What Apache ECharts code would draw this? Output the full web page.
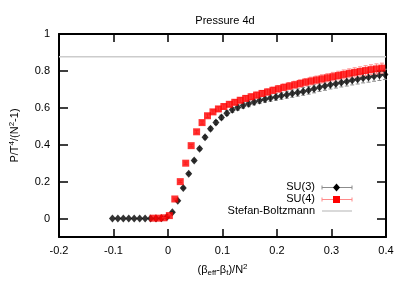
<!DOCTYPE html>
<html>
<head>
<meta charset="utf-8">
<script src="https://cdn.jsdelivr.net/npm/echarts@6/dist/echarts.min.js"></script>
<style>html,body{margin:0;padding:0;background:#fff;}#c{width:407px;height:285px;}</style>
</head>
<body>
<div id="c"></div>
<script>
// ---- data ----
const su3X = [-0.102,-0.092,-0.082,-0.072,-0.062,-0.052,-0.042,-0.032,-0.022,-0.012,-0.002,
  0.008,0.018,0.028,0.038,0.048,0.058,0.068,0.078,0.088,0.098,0.108,0.118,0.128,0.138,0.148,
  0.158,0.168,0.178,0.188,0.198,0.208,0.218,0.228,0.238,0.248,0.258,0.268,0.278,0.288,0.298,
  0.308,0.318,0.328,0.338,0.348,0.358,0.368,0.378,0.388,0.398];
const su3Y = [0,0,0,0,0,0,0,0,0,0.002,0.008,
  0.034,0.097,0.166,0.243,0.315,0.378,0.44,0.486,0.52,0.548,0.571,0.589,0.602,0.613,0.622,
  0.632,0.640,0.647,0.653,0.659,0.665,0.671,0.677,0.683,0.689,0.695,0.703,0.711,0.718,0.725,
  0.731,0.737,0.743,0.749,0.755,0.761,0.766,0.771,0.776,0.781];
const su3Err = [0,0,0,0,0,0,0,0,0,0,0.001,
  0.003,0.004,0.005,0.006,0.007,0.008,0.009,0.010,0.011,0.012,0.013,0.014,0.015,0.015,0.016,
  0.016,0.017,0.017,0.018,0.018,0.019,0.019,0.020,0.020,0.021,0.021,0.022,0.022,0.023,0.023,
  0.024,0.024,0.025,0.025,0.026,0.026,0.027,0.027,0.028,0.028];
const su4X = [-0.0275,-0.0175,-0.0075,0.0025,0.0125,0.0225,0.0325,0.0425,0.0525,0.0625,
  0.0725,0.0825,0.0925,0.1025,0.1125,0.1225,0.1325,0.1425,0.1525,0.1625,0.1725,0.1825,0.1925,
  0.2025,0.2125,0.2225,0.2325,0.2425,0.2525,0.2625,0.2725,0.2825,0.2925,0.3025,0.3125,0.3225,
  0.3325,0.3425,0.3525,0.3625,0.3725,0.3825,0.3925];
const su4Y = [0.002,0.002,0.004,0.016,0.106,0.200,0.300,0.395,0.470,0.520,
  0.557,0.578,0.594,0.607,0.619,0.630,0.641,0.651,0.660,0.669,0.678,0.686,0.695,
  0.703,0.711,0.718,0.725,0.732,0.739,0.745,0.751,0.757,0.763,0.769,0.775,0.781,
  0.787,0.792,0.797,0.802,0.807,0.811,0.815];
const su4Err = [0,0,0.001,0.002,0.004,0.005,0.006,0.007,0.008,0.009,
  0.010,0.011,0.012,0.013,0.013,0.014,0.014,0.015,0.015,0.016,0.016,0.017,0.017,
  0.018,0.018,0.019,0.019,0.020,0.020,0.021,0.021,0.022,0.022,0.023,0.023,0.024,
  0.024,0.025,0.025,0.026,0.026,0.027,0.027];
const sbX = [-0.2, 0.4];
const sbY = [0.877, 0.877];
const xTicks = [-0.2,-0.1,0,0.1,0.2,0.3,0.4];
const yTicks = [0,0.2,0.4,0.6,0.8,1];
const legendNames = ['SU(3)','SU(4)','Stefan-Boltzmann'];

// ---- chart ----
const chart = echarts.init(document.getElementById('c'), null, {renderer:'canvas'});
const FONT = 'Liberation Sans, Arial, sans-serif';
function zip3(xs, ys, es){ return xs.map((x,i)=>[x, ys[i], es[i]]); }
function errRender(color){
  return function(params, api){
    const x = api.value(0), y = api.value(1), e = api.value(2);
    if (!e) return null;
    const t = api.coord([x, y+e]), b = api.coord([x, y-e]);
    const hw = 2;
    const st = {stroke: color, lineWidth: 1};
    return {type:'group', children:[
      {type:'line', shape:{x1:t[0],y1:t[1],x2:b[0],y2:b[1]}, style:st},
      {type:'line', shape:{x1:t[0]-hw,y1:t[1],x2:t[0]+hw,y2:t[1]}, style:st},
      {type:'line', shape:{x1:b[0]-hw,y1:b[1],x2:b[0]+hw,y2:b[1]}, style:st}
    ]};
  };
}
const axisLineStyle = {color:'#000', width:2};
const labelStyle = {color:'#000', fontSize:11, fontFamily:FONT};
const option = {
  animation:false,
  backgroundColor:'#fff',
  title:{text:'Pressure 4d', left:220, top:10, textAlign:'center',
    textStyle:{fontSize:11, fontWeight:'normal', color:'#000', fontFamily:FONT}},
  grid:{left:55, right:21, top:34, bottom:48},
  xAxis:[{
    type:'value', min:-0.2, max:0.4, interval:0.1,
    axisLine:{show:true, onZero:false, lineStyle:axisLineStyle},
    axisTick:{show:true, inside:true, length:8, lineStyle:{color:'#000', width:1.5}},
    axisLabel:{...labelStyle, margin:8, formatter:v=>String(Math.round(v*10)/10)},
    splitLine:{show:false},
    name:'{n|(β}{s|eff}{n|-β}{s|t}{n|)/N}{p|2}', nameLocation:'middle', nameGap:26,
    nameTextStyle:{color:'#000', fontFamily:FONT, rich:{
      n:{fontSize:11, color:'#000', fontFamily:FONT},
      s:{fontSize:8, color:'#000', fontFamily:FONT, padding:[6,0,0,0]},
      p:{fontSize:8, color:'#000', fontFamily:FONT, padding:[0,0,6,0]}
    }}
  },{
    type:'value', position:'top', min:-0.2, max:0.4, interval:0.1,
    axisLine:{show:true, onZero:false, lineStyle:axisLineStyle},
    axisTick:{show:true, inside:true, length:8, lineStyle:{color:'#000', width:1.5}},
    axisLabel:{show:false}, splitLine:{show:false}
  }],
  yAxis:[{
    type:'value', min:-0.1, max:1,
    axisLine:{show:true, onZero:false, lineStyle:axisLineStyle},
    axisTick:{show:true, inside:true, length:9, customValues:yTicks, lineStyle:{color:'#000', width:1.5}},
    axisLabel:{...labelStyle, margin:9, customValues:yTicks, formatter:v=>String(Math.round(v*10)/10)},
    splitLine:{show:false},
    name:'{n|P/T}{p|4}{n|/(N}{p|2}{n|-1)}', nameLocation:'middle', nameGap:37,
    nameTextStyle:{color:'#000', fontFamily:FONT, rich:{
      n:{fontSize:11, color:'#000', fontFamily:FONT},
      p:{fontSize:8, color:'#000', fontFamily:FONT, padding:[0,0,6,0]}
    }}
  },{
    type:'value', position:'right', min:-0.1, max:1,
    axisLine:{show:true, onZero:false, lineStyle:axisLineStyle},
    axisTick:{show:true, inside:true, length:9, customValues:yTicks, lineStyle:{color:'#000', width:1.5}},
    axisLabel:{show:false}, splitLine:{show:false}
  }],
  series:[
    {type:'line', name:legendNames[2], data:sbX.map((x,i)=>[x,sbY[i]]), showSymbol:false,
      lineStyle:{color:'#cccccc', width:1.5}, z:1, silent:true},
    {type:'custom', name:'su3err', data:zip3(su3X,su3Y,su3Err), renderItem:errRender('#8c8c8c'), z:2, silent:true},
    {type:'scatter', name:legendNames[0], data:su3X.map((x,i)=>[x,su3Y[i]]), symbol:'diamond', symbolSize:[7,8],
      itemStyle:{color:'#000'}, z:3, silent:true},
    {type:'custom', name:'su4err', data:zip3(su4X,su4Y,su4Err), renderItem:errRender('#ff8a8a'), z:4, silent:true},
    {type:'scatter', name:legendNames[1], data:su4X.map((x,i)=>[x,su4Y[i]]), symbol:'rect', symbolSize:7,
      itemStyle:{color:'#ff0000'}, z:5, silent:true}
  ],
  graphic:[
    {type:'text', right:407-315, top:181, style:{text:legendNames[0], fill:'#000', font:'11px '+FONT}},
    {type:'text', right:407-315, top:193, style:{text:legendNames[1], fill:'#000', font:'11px '+FONT}},
    {type:'text', right:407-315, top:205, style:{text:legendNames[2], fill:'#000', font:'11px '+FONT}},
    // SU(3) sample
    {type:'line', shape:{x1:322,y1:187.5,x2:352,y2:187.5}, style:{stroke:'#8c8c8c', lineWidth:1}},
    {type:'line', shape:{x1:322,y1:185.5,x2:322,y2:189.5}, style:{stroke:'#8c8c8c', lineWidth:1}},
    {type:'line', shape:{x1:352,y1:185.5,x2:352,y2:189.5}, style:{stroke:'#8c8c8c', lineWidth:1}},
    {type:'polygon', shape:{points:[[336.5,183.5],[340,187.5],[336.5,191.5],[333,187.5]]}, style:{fill:'#000'}},
    // SU(4) sample
    {type:'line', shape:{x1:322,y1:199.5,x2:352,y2:199.5}, style:{stroke:'#ff8a8a', lineWidth:1}},
    {type:'line', shape:{x1:322,y1:197.5,x2:322,y2:201.5}, style:{stroke:'#ff8a8a', lineWidth:1}},
    {type:'line', shape:{x1:352,y1:197.5,x2:352,y2:201.5}, style:{stroke:'#ff8a8a', lineWidth:1}},
    {type:'rect', shape:{x:333,y:196,width:7,height:7}, style:{fill:'#ff0000'}},
    // SB sample
    {type:'line', shape:{x1:322,y1:211,x2:352,y2:211}, style:{stroke:'#cccccc', lineWidth:1.5}}
  ]
};
chart.setOption(option);
</script>
</body>
</html>
